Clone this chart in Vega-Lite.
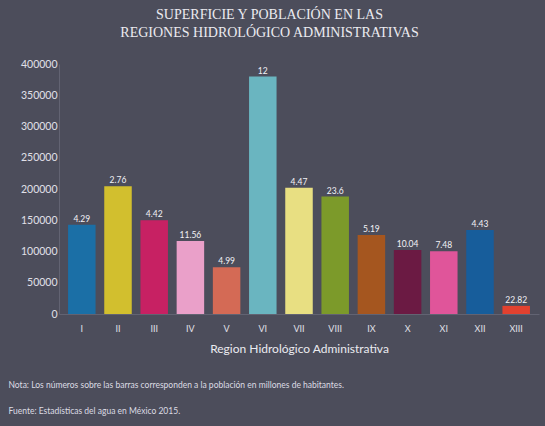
{
  "$schema": "https://vega.github.io/schema/vega-lite/v6.json",
  "width": 480,
  "height": 250,
  "autosize": {"type": "none"},
  "padding": {"left": 59, "top": 64, "right": 6, "bottom": 112},
  "background": "#4c4d5b",
  "config": {"view": {"stroke": null}, "font": "Lato"},
  "title": {
    "text": ["SUPERFICIE Y POBLACIÓN EN LAS", "REGIONES HIDROLÓGICO ADMINISTRATIVAS"],
    "font": "Liberation Serif",
    "fontSize": 14,
    "fontWeight": "normal",
    "color": "#ebebf0",
    "lineHeight": 18,
    "anchor": "middle",
    "frame": "bounds",
    "offset": 19,
    "dx": -4
  },
  "data": {
    "values": [
      {"region": "I", "area": 143000, "pop": 4.29, "color": "#1b6fa6"},
      {"region": "II", "area": 204500, "pop": 2.76, "color": "#d2bf2e"},
      {"region": "III", "area": 150000, "pop": 4.42, "color": "#c72163"},
      {"region": "IV", "area": 117000, "pop": 11.56, "color": "#eaa0c9"},
      {"region": "V", "area": 75000, "pop": 4.99, "color": "#d46a55"},
      {"region": "VI", "area": 380000, "pop": 12, "color": "#6ab5c0"},
      {"region": "VII", "area": 202000, "pop": 4.47, "color": "#e8df82"},
      {"region": "VIII", "area": 188000, "pop": 23.6, "color": "#7c9a2a"},
      {"region": "IX", "area": 126500, "pop": 5.19, "color": "#a5561f"},
      {"region": "X", "area": 102500, "pop": 10.04, "color": "#6b1a43"},
      {"region": "XI", "area": 100500, "pop": 7.48, "color": "#e0559a"},
      {"region": "XII", "area": 134500, "pop": 4.43, "color": "#175d9b"},
      {"region": "XIII", "area": 13000, "pop": 22.82, "color": "#e2412f"}
    ]
  },
  "layer": [
    {
      "mark": {"type": "bar"},
      "encoding": {
        "x": {
          "field": "region",
          "type": "ordinal",
          "sort": null,
          "scale": {"paddingInner": 0.24, "paddingOuter": 0.25},
          "axis": {
            "orient": "bottom",
            "title": "Region Hidrológico Administrativa",
            "titleFont": "Lato",
            "titleFontSize": 12,
            "titleFontWeight": "normal",
            "titleColor": "#ebebf0",
            "titlePadding": 10,
            "labelAngle": 0,
            "labelFontSize": 9,
            "labelColor": "#e0e0e8",
            "labelPadding": 10,
            "ticks": false,
            "domain": true,
            "domainColor": "#626372"
          }
        },
        "y": {
          "field": "area",
          "type": "quantitative",
          "scale": {"domain": [0, 400000]},
          "axis": {
            "title": null,
            "values": [0, 50000, 100000, 150000, 200000, 250000, 300000, 350000, 400000],
            "format": "d",
            "grid": false,
            "ticks": false,
            "labelOverlap": false,
            "labelFlush": false,
            "labelFontSize": 10.5,
            "labelColor": "#e0e0e8",
            "labelPadding": 2,
            "domainColor": "#626372"
          }
        },
        "color": {"field": "color", "type": "nominal", "scale": null}
      }
    },
    {
      "mark": {"type": "text", "baseline": "bottom", "dy": -1, "fontSize": 8.5, "color": "#f2f2f6"},
      "encoding": {
        "x": {
          "field": "region",
          "type": "ordinal",
          "sort": null,
          "axis": {
            "orient": "bottom",
            "labels": false,
            "ticks": false,
            "domain": false,
            "title": ["Nota: Los números sobre las barras corresponden a la población en millones de habitantes.", "Fuente: Estadísticas del agua en México 2015."],
            "titleFont": "Lato",
            "titleFontSize": 8.5,
            "titleFontWeight": "normal",
            "titleColor": "#dcdce4",
            "titleLineHeight": 26,
            "titleAlign": "left",
            "titleAnchor": "start",
            "titleX": -51,
            "titlePadding": 66
          }
        },
        "y": {
          "field": "area",
          "type": "quantitative",
          "axis": {
            "title": null,
            "values": [0, 50000, 100000, 150000, 200000, 250000, 300000, 350000, 400000],
            "format": "d",
            "grid": false,
            "ticks": false,
            "labelOverlap": false,
            "labelFlush": false,
            "labelFontSize": 10.5,
            "labelColor": "#e0e0e8",
            "labelPadding": 2,
            "domainColor": "#626372"
          }
        },
        "text": {"field": "pop", "type": "quantitative"}
      }
    }
  ],
  "resolve": {"axis": {"x": "independent"}}
}
